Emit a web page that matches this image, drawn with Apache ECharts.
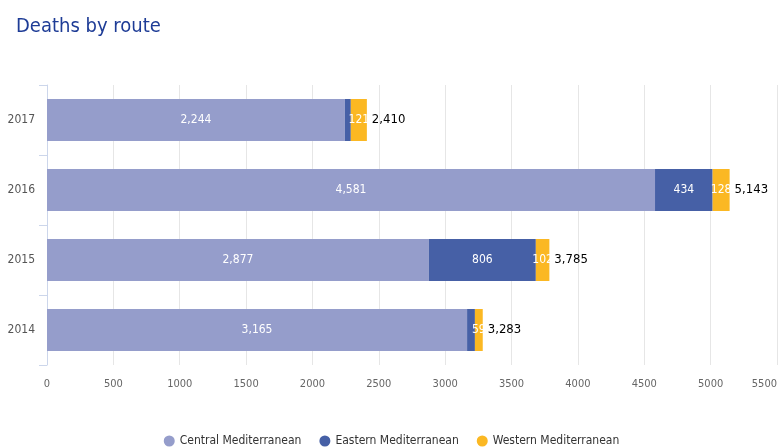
<!DOCTYPE html>
<html>
<head>
<meta charset="utf-8">
<script src="https://cdn.jsdelivr.net/npm/echarts@6/dist/echarts.min.js"></script>
<style>
  html, body { margin: 0; padding: 0; background: #fff; }
  #chart { width: 783px; height: 448px; }
</style>
</head>
<body>
<div id="chart"></div>
<script>
const years = ['2014', '2015', '2016', '2017'];
const central = [3165, 2877, 4581, 2244];
const eastern = [59, 806, 434, 45];
const western = [59, 102, 128, 121];
const totals = [3283, 3785, 5143, 2410];
const xTicks = [0, 500, 1000, 1500, 2000, 2500, 3000, 3500, 4000, 4500, 5000, 5500];

const fontFamily = "'DejaVu Sans Condensed', 'Liberation Sans Narrow', 'Open Sans', sans-serif";

const chart = echarts.init(document.getElementById('chart'));

function innerLabel() {
    return {
        show: true,
        position: 'inside',
        color: '#fff',
        fontSize: 12,
        fontFamily: fontFamily,
        formatter: p => p.value.toLocaleString('en-US')
    };
}

chart.setOption({
    animation: false,
    title: {
        text: 'Deaths by route',
        left: 11,
        top: 12,
        textStyle: { color: '#1e3c96', fontSize: 20, fontWeight: 'normal', fontFamily: fontFamily }
    },
    legend: {
        data: ['Central Mediterranean', 'Eastern Mediterranean', 'Western Mediterranean'],
        top: 430,
        left: 'center',
        icon: 'circle',
        itemWidth: 11,
        itemHeight: 11,
        itemGap: 18,
        textStyle: { color: '#333', fontSize: 12, fontFamily: fontFamily }
    },
    grid: { left: 47, right: 6, top: 85, bottom: 83, outerBoundsMode: 'none' },
    xAxis: {
        type: 'value',
        min: xTicks[0],
        max: xTicks[xTicks.length - 1],
        interval: 500,
        axisLine: { show: false },
        axisTick: { show: false },
        axisLabel: {
            color: '#666', fontSize: 11, fontFamily: fontFamily, margin: 14,
            alignMaxLabel: 'right',
            formatter: v => String(v)
        },
        splitLine: { lineStyle: { color: '#e6e6e6' } }
    },
    yAxis: {
        type: 'category',
        data: years,
        axisLine: { lineStyle: { color: '#ccd6eb' } },
        axisTick: { show: true, length: 8, lineStyle: { color: '#ccd6eb' } },
        axisLabel: { color: '#555', fontSize: 12, fontFamily: fontFamily, margin: 12 }
    },
    series: [
        {
            name: 'Central Mediterranean', type: 'bar', stack: 'total', barWidth: '60%',
            data: central, itemStyle: { color: '#959dcb' }, label: innerLabel(),
            labelLayout: { hideOverlap: true }
        },
        {
            name: 'Eastern Mediterranean', type: 'bar', stack: 'total',
            data: eastern, itemStyle: { color: '#4660a6' }, label: innerLabel(),
            labelLayout: { hideOverlap: true }
        },
        {
            name: 'Western Mediterranean', type: 'bar', stack: 'total',
            data: western, itemStyle: { color: '#fbb823' }, label: innerLabel(),
            labelLayout: { hideOverlap: true }
        },
        {
            name: 'Total', type: 'bar', stack: 'total',
            data: totals.map(() => 0),
            itemStyle: { color: 'transparent' },
            label: {
                show: true,
                position: 'right',
                distance: 5,
                color: '#000',
                fontSize: 13,
                fontFamily: fontFamily,
                formatter: p => totals[p.dataIndex].toLocaleString('en-US')
            }
        }
    ]
});
</script>
</body>
</html>
